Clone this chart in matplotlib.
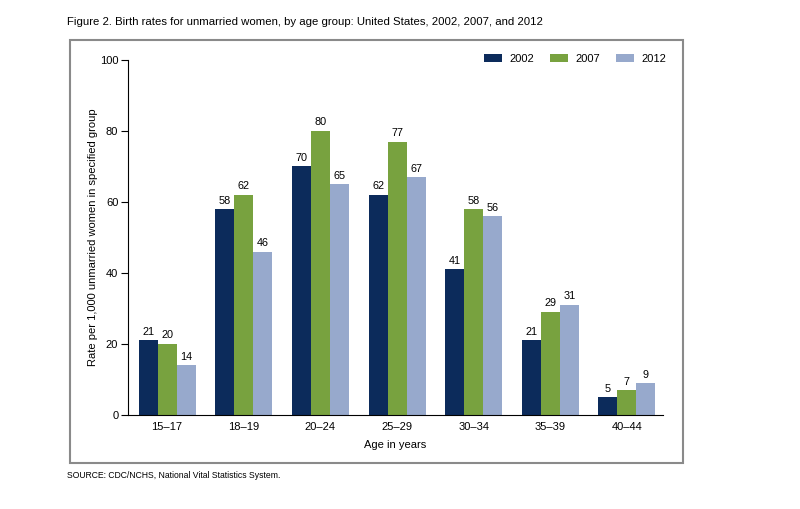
import numpy as np
import matplotlib.pyplot as plt
from matplotlib.patches import Rectangle

plt.rcParams['font.family'] = ['Liberation Sans', 'DejaVu Sans']

ages = ["15–17", "18–19", "20–24", "25–29", "30–34", "35–39", "40–44"]
years = ["2002", "2007", "2012"]
r2002 = [21, 58, 70, 62, 41, 21, 5]
r2007 = [20, 62, 80, 77, 58, 29, 7]
r2012 = [14, 46, 65, 67, 56, 31, 9]
colors = ["#0c2b5b", "#78a23f", "#97a9cc"]

fig = plt.figure(figsize=(8, 5.09), dpi=100)
fig.patches.append(Rectangle((70/800, 1-463/509), 613/800, 423/509, transform=fig.transFigure,
                             fill=False, edgecolor="#8a8a8a", linewidth=1.5))
fig.text(67/800, 1-22/509, "Figure 2. Birth rates for unmarried women, by age group: United States, 2002, 2007, and 2012",
         fontsize=8.2, va="center", ha="left")
fig.text(67/800, 1-475/509, "SOURCE: CDC/NCHS, National Vital Statistics System.",
         fontsize=6.2, va="center", ha="left")

ax = fig.add_axes([128/800, 1-415/509, 535/800, 355/509])
x = np.arange(len(ages))
w = 0.248
for i, (vals, c, yr) in enumerate(zip([r2002, r2007, r2012], colors, years)):
    bars = ax.bar(x + (i-1)*w, vals, w, color=c, label=yr, linewidth=0)
    for b, v in zip(bars, vals):
        ax.text(b.get_x()+b.get_width()/2, v+1, str(v), ha="center", va="bottom", fontsize=7.8)

ax.set_xlim(-0.51, 6.47)
ax.set_ylim(0, 100)
ax.set_yticks([0, 20, 40, 60, 80, 100])
ax.set_xticks(x)
ax.set_xticklabels(ages, fontsize=8)
ax.tick_params(axis="x", length=0, pad=5)
ax.tick_params(axis="y", length=5, direction="out", labelsize=8, pad=2)
for s in ["top", "right"]:
    ax.spines[s].set_visible(False)
ax.set_ylabel("Rate per 1,000 unmarried women in specified group", fontsize=8, labelpad=1)
ax.set_xlabel("Age in years", fontsize=8, labelpad=6)
ax.legend(ncol=3, frameon=False, loc="upper right", bbox_to_anchor=(1.025, 1.045), fontsize=8,
          handlelength=1.6, handleheight=0.7, columnspacing=1.4, handletextpad=0.7)

plt.savefig("out.png", dpi=100)
